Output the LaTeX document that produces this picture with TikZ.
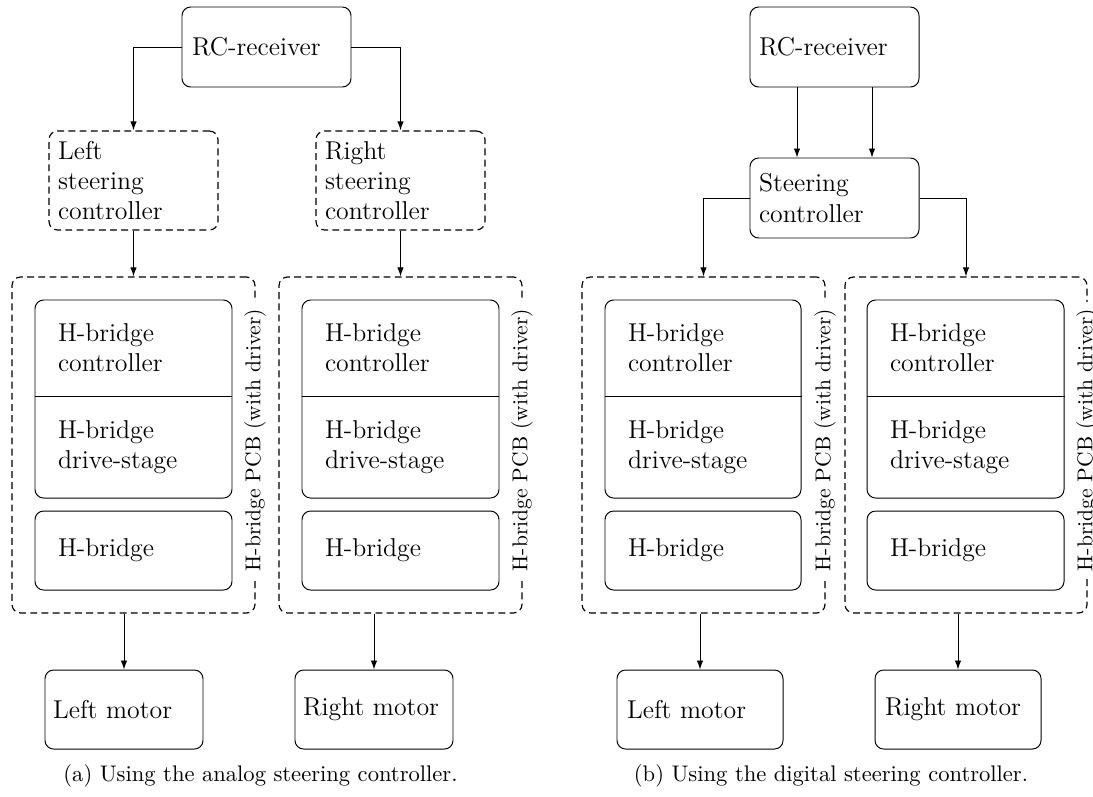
\documentclass[tikz,border=0pt]{standalone}
\usetikzlibrary{arrows.meta,calc}
\begin{document}
\begin{tikzpicture}[x=0.4653pt,y=-0.4653pt,
  line width=0.45pt,
  >={Latex[length=4.2pt,width=3pt]},
  bx/.code n args={3}{%
    \pgfmathsetmacro\twd{(#1-2*#3)*0.4653}%
    \pgfmathsetmacro\mwd{#1*0.4653}%
    \pgfmathsetmacro\mht{#2*0.4653}%
    \edef\tmpset{\noexpand\tikzset{text width=\twd pt,minimum width=\mwd pt,minimum height=\mht pt}}\tmpset},
  base/.style={font=\large, align=left, inner xsep=0pt, inner ysep=0pt, rounded corners=4pt},
  solidbox/.style={base, draw},
  dashbox/.style={base, draw, line width=0.55pt, dash pattern=on 3.2pt off 2pt},
  plain/.style={base},
  pcblabel/.style={rotate=90, fill=white, font=\normalsize, inner sep=3pt},
  caption/.style={font=\fontsize{10.5}{12.6}\selectfont, inner sep=0pt},
  conn/.style={->}
]
\useasboundingbox (0,0) rectangle (1093,796);

% ---------------- (a) ----------------
\node[solidbox, bx={169}{80}{10}] (rcA) at (266.5,47) {RC-receiver};
\node[dashbox, bx={169}{99}{9}] (lscA) at (133.5,180.5) {Left\\steering\\controller};
\node[dashbox, bx={169}{99}{9}] (rscA) at (400.5,180.5) {Right\\steering\\controller};

\node[dashbox, bx={243}{336}{0}] (pcbLA) at (133.5,445) {};
\node[dashbox, bx={243}{336}{0}] (pcbRA) at (400.5,445) {};

\node[solidbox, bx={197}{198}{0}] (hbLA) at (133.5,399) {};
\node[plain, bx={197}{96}{23}] (ctlLA) at (133.5,348) {H-bridge\\controller};
\node[plain, bx={197}{102}{23}] (drvLA) at (133.5,447) {H-bridge\\drive-stage};
\draw (ctlLA.south west) -- (ctlLA.south east);
\node[solidbox, bx={197}{79}{23}] (brLA) at (133.5,550.5) {H-bridge};

\node[solidbox, bx={197}{198}{0}] (hbRA) at (400.5,399) {};
\node[plain, bx={197}{96}{23}] (ctlRA) at (400.5,348) {H-bridge\\controller};
\node[plain, bx={197}{102}{23}] (drvRA) at (400.5,447) {H-bridge\\drive-stage};
\draw (ctlRA.south west) -- (ctlRA.south east);
\node[solidbox, bx={197}{79}{23}] (brRA) at (400.5,550.5) {H-bridge};

\node[pcblabel] (labLA) at (255,440) {H-bridge PCB (with driver)};
\node[pcblabel] (labRA) at (522,440) {H-bridge PCB (with driver)};

\node[solidbox, bx={158}{79}{8}] (lmA) at (124,709.5) {Left motor};
\node[solidbox, bx={158}{79}{8}] (rmA) at (374,709.5) {Right motor};

\draw[conn] (rcA.west) -| (lscA.north);
\draw[conn] (rcA.east) -| (rscA.north);
\draw[conn] (lscA.south) -- (pcbLA.north);
\draw[conn] (rscA.south) -- (pcbRA.north);
\draw[conn] (pcbLA.south -| lmA.north) -- (lmA.north);
\draw[conn] (pcbRA.south -| rmA.north) -- (rmA.north);

\node[caption] (capA) at (260.5,776) {(a) Using the analog steering controller.};

% ---------------- (b) ----------------
\node[solidbox, bx={169}{80}{9}] (rcB) at (834.5,47) {RC-receiver};
\node[solidbox, bx={169}{80}{9}] (scB) at (834.5,198) {Steering\\controller};

\node[dashbox, bx={243}{336}{0}] (pcbLB) at (703.5,445) {};
\node[dashbox, bx={242}{336}{0}] (pcbRB) at (966,445) {};

\node[solidbox, bx={196}{198}{0}] (hbLB) at (703,399) {};
\node[plain, bx={196}{96}{23}] (ctlLB) at (703,348) {H-bridge\\controller};
\node[plain, bx={196}{102}{23}] (drvLB) at (703,447) {H-bridge\\drive-stage};
\draw (ctlLB.south west) -- (ctlLB.south east);
\node[solidbox, bx={196}{79}{23}] (brLB) at (703,550.5) {H-bridge};

\node[solidbox, bx={197}{198}{0}] (hbRB) at (965.5,399) {};
\node[plain, bx={197}{96}{23}] (ctlRB) at (965.5,348) {H-bridge\\controller};
\node[plain, bx={197}{102}{23}] (drvRB) at (965.5,447) {H-bridge\\drive-stage};
\draw (ctlRB.south west) -- (ctlRB.south east);
\node[solidbox, bx={197}{79}{23}] (brRB) at (965.5,550.5) {H-bridge};

\node[pcblabel] (labLB) at (825,440) {H-bridge PCB (with driver)};
\node[pcblabel] (labRB) at (1087,440) {H-bridge PCB (with driver)};

\node[solidbox, bx={166}{79}{10}] (lmB) at (700,709.5) {Left motor};
\node[solidbox, bx={166}{79}{10}] (rmB) at (958,709.5) {Right motor};

\draw[conn] ($(rcB.south)+(-37.5,0)$) -- ($(scB.north)+(-37.5,0)$);
\draw[conn] ($(rcB.south)+(37.5,0)$) -- ($(scB.north)+(37.5,0)$);
\draw[conn] (scB.west) -| (pcbLB.north);
\draw[conn] (scB.east) -| (pcbRB.north);
\draw[conn] (pcbLB.south -| lmB.north) -- (lmB.north);
\draw[conn] (pcbRB.south -| rmB.north) -- (rmB.north);

\node[caption] (capB) at (831,776) {(b) Using the digital steering controller.};
\end{tikzpicture}
\end{document}
